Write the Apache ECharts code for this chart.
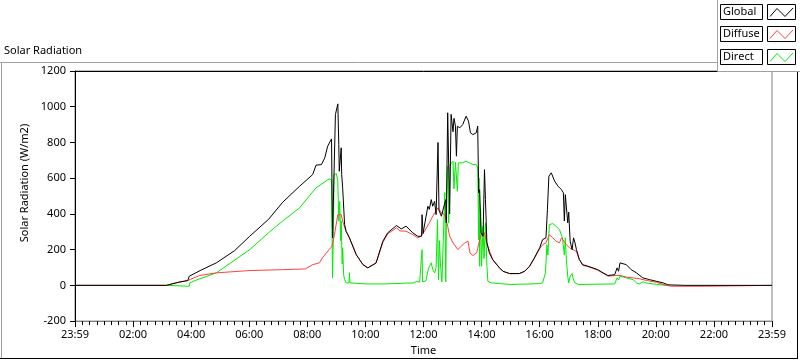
<!DOCTYPE html>
<html>
<head>
<meta charset="utf-8">
<script src="https://cdn.jsdelivr.net/npm/echarts@6/dist/echarts.min.js"></script>
<style>
html,body{margin:0;padding:0;background:#fff;}
#c{width:800px;height:361px;}
</style>
</head>
<body>
<div id="c"></div>
<script>
// Time in minutes after midnight, value in W/m2
const globalData = [[0,0],[189,0],[200,8],[215,18],[233,27],[236,51],[260,85],[292,126],[330,195],[361,275],[400,370],[429,465],[464,555],[491,620],[498,673],[509,676],[516,714],[522,779],[530,820],[532,266],[538,956],[543,1016],[545,788],[546,639],[550,770],[551,620],[553,546],[557,340],[560,303],[567,266],[581,172],[595,116],[605,98],[609,98],[622,126],[636,247],[646,294],[664,335],[674,316],[684,331],[698,294],[708,275],[712,275],[716,275],[717,396],[719,290],[722,290],[729,443],[732,425],[736,480],[739,443],[743,470],[746,396],[750,800],[752,420],[757,387],[760,420],[766,480],[767,350],[770,966],[772,957],[774,400],[777,957],[781,860],[783,935],[786,891],[788,723],[790,891],[795,882],[801,900],[808,947],[813,919],[817,854],[822,844],[829,854],[832,891],[834,518],[836,535],[839,294],[843,275],[846,648],[848,480],[851,238],[856,182],[863,144],[877,98],[884,79],[898,66],[918,66],[929,79],[939,107],[949,154],[960,210],[966,256],[973,266],[976,424],[979,611],[984,630],[991,583],[998,555],[1005,536],[1009,518],[1011,360],[1013,508],[1018,350],[1020,410],[1023,247],[1027,200],[1030,266],[1033,238],[1036,200],[1042,144],[1049,116],[1060,107],[1070,98],[1080,88],[1091,70],[1101,55],[1115,60],[1120,98],[1123,79],[1126,126],[1139,116],[1149,88],[1160,70],[1173,42],[1187,32],[1201,23],[1215,14],[1225,3],[1260,0],[1440,0]];

const diffuseData = [[0,0],[189,0],[200,8],[215,18],[233,27],[237,32],[257,55],[292,70],[361,83],[429,88],[476,92],[491,116],[505,126],[511,154],[525,200],[531,219],[536,284],[543,396],[550,396],[553,359],[560,303],[567,266],[581,172],[595,116],[605,98],[609,98],[622,124],[636,240],[646,288],[664,322],[671,305],[684,303],[698,284],[708,266],[715,275],[722,303],[732,350],[743,406],[750,434],[757,406],[764,396],[770,331],[774,275],[781,238],[791,200],[798,219],[805,238],[812,247],[816,182],[822,167],[830,182],[836,256],[839,284],[846,294],[849,256],[853,219],[863,144],[877,98],[884,79],[898,66],[918,66],[929,79],[939,105],[949,150],[960,205],[966,228],[973,238],[980,284],[987,266],[994,247],[1001,238],[1005,266],[1009,260],[1015,228],[1022,210],[1029,200],[1036,190],[1042,144],[1049,112],[1060,105],[1070,95],[1080,85],[1091,68],[1101,52],[1118,55],[1128,55],[1139,46],[1153,42],[1166,37],[1180,28],[1201,17],[1222,0],[1232,-5],[1300,-5],[1303,0],[1440,0]];

const directData = [[0,0],[189,0],[192,-5],[236,-5],[237,14],[250,29],[292,70],[361,200],[400,295],[429,360],[464,434],[498,546],[525,596],[530,590],[531,300],[532,42],[534,300],[535,620],[540,626],[543,580],[545,359],[547,470],[549,250],[550,360],[552,120],[553,210],[555,60],[557,32],[560,14],[566,14],[567,70],[568,14],[572,8],[600,8],[640,8],[680,12],[700,14],[705,22],[712,18],[716,20],[717,200],[718,20],[725,25],[729,79],[732,107],[736,126],[739,90],[743,70],[746,100],[749,368],[751,30],[753,250],[755,120],[758,20],[762,20],[764,520],[766,20],[768,500],[770,667],[772,350],[775,676],[781,695],[783,540],[786,690],[790,527],[792,686],[801,686],[808,695],[815,686],[822,676],[829,676],[832,658],[834,256],[835,600],[836,107],[838,420],[840,107],[843,331],[845,150],[848,350],[851,107],[853,23],[860,14],[877,10],[900,5],[940,8],[960,10],[966,14],[972,70],[975,228],[977,170],[980,340],[987,346],[994,330],[1001,312],[1007,266],[1010,270],[1011,170],[1013,266],[1015,150],[1018,51],[1020,14],[1023,51],[1027,66],[1030,30],[1033,14],[1040,5],[1115,8],[1120,42],[1123,30],[1126,51],[1139,42],[1153,32],[1160,14],[1166,8],[1173,20],[1180,14],[1201,5],[1222,0]];

const seriesNames = ['Global', 'Diffuse', 'Direct'];
const seriesColors = ['#000000', '#ff4040', '#00ee00'];
const xEndLabel = '23:59';
const yTicks = { min: -200, max: 1200, step: 200 };
const xTicks = { min: 0, max: 1440, step: 120 };

const FONT = 'Noto Sans';
const chart = echarts.init(document.getElementById('c'), null, { renderer: 'canvas' });

function fmtTime(v) {
  if (v === xTicks.min || v === xTicks.max) return xEndLabel;
  const h = Math.floor(v / 60), m = v % 60;
  return String(h).padStart(2, '0') + ':' + String(m).padStart(2, '0');
}

// legend built as graphic boxes
const legendGraphics = [
  { type: 'rect', shape: { x: 717.5, y: -2, width: 90, height: 73.5 }, style: { fill: '#fff', stroke: '#a0a0a0', lineWidth: 1 }, z: 100 }
];
const rowY = [4.5, 26.5, 49.5];
seriesNames.forEach((n, i) => {
  const y = rowY[i];
  legendGraphics.push({ type: 'rect', shape: { x: 720.5, y: y, width: 42, height: 15 }, style: { fill: '#fff', stroke: '#000', lineWidth: 1 }, z: 101 });
  legendGraphics.push({ type: 'text', x: 723, y: y + 7.5, style: { text: n, fill: '#000', font: '11px "' + FONT + '"', textVerticalAlign: 'middle' }, z: 102 });
  legendGraphics.push({ type: 'rect', shape: { x: 767.5, y: y, width: 28, height: 15 }, style: { fill: '#fff', stroke: '#000', lineWidth: 1 }, z: 101 });
  legendGraphics.push({ type: 'polyline', shape: { points: [[770, y + 12], [777, y + 4], [785, y + 12], [793, y + 3.5]] }, style: { stroke: seriesColors[i], lineWidth: 1, fill: null }, z: 102 });
});

const option = {
  animation: false,
  backgroundColor: '#ffffff',
  textStyle: { fontFamily: FONT },
  grid: { left: 75, top: 71, width: 697, height: 251, show: true, borderColor: '#808080', borderWidth: 1, backgroundColor: '#ffffff', containLabel: false },
  xAxis: [{
    type: 'value', min: xTicks.min, max: xTicks.max, interval: xTicks.step, position: 'bottom',
    name: 'Time', nameLocation: 'middle', nameGap: 23,
    nameTextStyle: { color: '#000', fontSize: 11, fontFamily: FONT },
    axisLine: { show: true, onZero: false, lineStyle: { color: '#808080', width: 1 } },
    axisTick: { show: true, length: 6, lineStyle: { color: '#000', width: 1 } },
    minorTick: { show: true, splitNumber: 8, length: 4, lineStyle: { color: '#000', width: 1 } },
    axisLabel: { formatter: fmtTime, color: '#000', fontSize: 11, fontFamily: FONT, margin: 8, showMinLabel: true, showMaxLabel: true },
    splitLine: { show: false }
  }, {
    type: 'value', min: xTicks.min, max: xTicks.max, position: 'top',
    axisLine: { show: true, onZero: false, lineStyle: { color: '#000', width: 1 } },
    axisTick: { show: false }, axisLabel: { show: false }, splitLine: { show: false }
  }],
  yAxis: {
    type: 'value', min: yTicks.min, max: yTicks.max, interval: yTicks.step,
    name: 'Solar Radiation (W/m2)', nameLocation: 'middle', nameGap: 38, nameRotate: 90,
    nameTextStyle: { color: '#000', fontSize: 11, fontFamily: FONT, padding: [0, 0, 0, 26] },
    axisLine: { show: true, onZero: false, lineStyle: { color: '#000', width: 1 } },
    axisTick: { show: true, length: 5, lineStyle: { color: '#000', width: 1 } },
    axisLabel: { color: '#000', fontSize: 11, fontFamily: FONT, margin: 9, formatter: v => String(v) },
    splitLine: { show: false }
  },
  series: [
    { name: 'Direct', type: 'line', data: directData, showSymbol: false, lineStyle: { color: seriesColors[2], width: 1 }, itemStyle: { color: seriesColors[2] }, z: 2 },
    { name: 'Diffuse', type: 'line', data: diffuseData, showSymbol: false, lineStyle: { color: seriesColors[1], width: 1 }, itemStyle: { color: seriesColors[1] }, z: 3 },
    { name: 'Global', type: 'line', data: globalData, showSymbol: false, lineStyle: { color: seriesColors[0], width: 1 }, itemStyle: { color: seriesColors[0] }, z: 4 }
  ],
  graphic: [
    { type: 'line', shape: { x1: 0, y1: 62.5, x2: 717, y2: 62.5 }, style: { stroke: '#a0a0a0', lineWidth: 1 }, z: 50 },
    { type: 'line', shape: { x1: 1.5, y1: 62, x2: 1.5, y2: 359 }, style: { stroke: '#a0a0a0', lineWidth: 1 }, z: 50 },
    { type: 'line', shape: { x1: 0, y1: 358.5, x2: 798, y2: 358.5 }, style: { stroke: '#000', lineWidth: 1 }, z: 50 },
    { type: 'line', shape: { x1: 797.5, y1: 71, x2: 797.5, y2: 359 }, style: { stroke: '#000', lineWidth: 1 }, z: 50 },
    { type: 'text', x: 4, y: 51, style: { text: 'Solar Radiation', fill: '#000', font: '11px "' + FONT + '"', textVerticalAlign: 'middle' }, z: 50 }
  ].concat(legendGraphics)
};
chart.setOption(option);
</script>
</body>
</html>
